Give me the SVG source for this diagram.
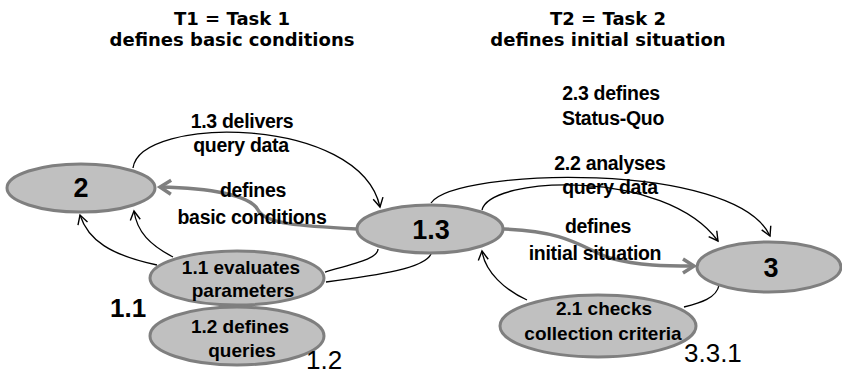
<svg xmlns="http://www.w3.org/2000/svg" width="842" height="376" viewBox="0 0 842 376">
  <style>
    .node { fill: #c0c0c0; stroke: #7f7f7f; stroke-width: 3; }
    .head { font-family: "DejaVu Sans", Verdana, sans-serif; font-weight: bold; font-size: 18px; fill: #000; text-anchor: middle; }
    .lbl { font-family: "Liberation Sans", Arial, sans-serif; font-weight: bold; font-size: 19.5px; letter-spacing: -0.3px; fill: #000; text-anchor: middle; }
    .ntxt { font-family: "Liberation Sans", Arial, sans-serif; font-weight: bold; font-size: 19px; fill: #000; text-anchor: middle; }
    .big { font-family: "Liberation Sans", Arial, sans-serif; font-weight: bold; font-size: 27px; fill: #000; text-anchor: middle; }
    .tag { font-family: "Liberation Sans", Arial, sans-serif; font-size: 26px; fill: #000; }
    .thin { fill: none; stroke: #000; stroke-width: 1.3; }
    .thick { fill: none; stroke: #7f7f7f; stroke-width: 3.5; }
  </style>
  <defs>
    <marker id="vBlack" markerUnits="userSpaceOnUse" markerWidth="24" markerHeight="24" viewBox="-12 -12 24 24" refX="0" refY="0" orient="auto">
      <path d="M-9,-5 L0,0 L-9,5" fill="none" stroke="#000" stroke-width="1.4"/>
    </marker>
    <marker id="vGray" markerUnits="userSpaceOnUse" markerWidth="30" markerHeight="30" viewBox="-15 -15 30 30" refX="0" refY="0" orient="auto">
      <path d="M-11,-7 L0,0 L-11,7" fill="none" stroke="#7f7f7f" stroke-width="3.5"/>
    </marker>
  </defs>

  <!-- headings -->
  <g id="headings">
    <text class="head" x="232" y="25">T1 = Task 1</text>
    <text class="head" x="232" y="46">defines basic conditions</text>
    <text class="head" x="608" y="25">T2 = Task 2</text>
    <text class="head" x="608" y="46">defines initial situation</text>
  </g>

  <!-- connectors -->
  <g id="connectors">
    <path class="thin" d="M133,168 C140,115 360,115 380,207" marker-end="url(#vBlack)"/>
    <path class="thick" d="M357,229 C300,226 265,224 258,210 C250,195 210,188 160,187" marker-end="url(#vGray)"/>
    <path class="thin" d="M157,265 C110,255 88,240 80,215" marker-end="url(#vBlack)"/>
    <path class="thin" d="M173,257 C150,245 137,232 134,211" marker-end="url(#vBlack)"/>
    <path class="thin" d="M325,272 C360,262 378,258 378,249"/>
    <path class="thin" d="M326,282 C380,275 425,268 431,254"/>
    <path class="thin" d="M431,203 C455,168 735,160 770,236" marker-end="url(#vBlack)"/>
    <path class="thin" d="M482,210 C490,176 665,168 718,241" marker-end="url(#vBlack)"/>
    <path class="thick" d="M504,229 C570,231 585,250 610,258 C640,266 665,266 694,266" marker-end="url(#vGray)"/>
    <path class="thin" d="M719,285 C717,298 700,303 684,307"/>
    <path class="thin" d="M527,300 C505,290 485,272 482,251" marker-end="url(#vBlack)"/>
  </g>

  <!-- connector labels -->
  <g id="labels">
    <text class="lbl" x="242" y="128">1.3 delivers</text>
    <text class="lbl" x="241" y="152">query data</text>
    <text class="lbl" x="253" y="197">defines</text>
    <text class="lbl" x="252" y="224">basic conditions</text>
    <text class="lbl" x="611" y="100">2.3 defines</text>
    <text class="lbl" x="613" y="125">Status-Quo</text>
    <text class="lbl" x="610" y="170">2.2 analyses</text>
    <text class="lbl" x="610" y="194">query data</text>
    <text class="lbl" x="598" y="233">defines</text>
    <text class="lbl" x="595" y="260">initial situation</text>
  </g>

  <g id="node-2">
    <ellipse class="node" cx="81" cy="188" rx="74" ry="24"/>
    <text class="big" x="81" y="197">2</text>
  </g>
  <g id="node-1-3">
    <ellipse class="node" cx="430" cy="229" rx="73" ry="24"/>
    <text class="big" x="431" y="239">1.3</text>
  </g>
  <g id="node-3">
    <ellipse class="node" cx="769" cy="267" rx="72" ry="25"/>
    <text class="big" x="771" y="277">3</text>
  </g>
  <g id="node-1-1">
    <ellipse class="node" cx="237" cy="278" rx="87" ry="27"/>
    <text class="ntxt" x="241" y="274">1.1 evaluates</text>
    <text class="ntxt" x="243" y="297">parameters</text>
  </g>
  <g id="node-1-2">
    <ellipse class="node" cx="237" cy="336" rx="87" ry="29"/>
    <text class="ntxt" x="240" y="333">1.2 defines</text>
    <text class="ntxt" x="242" y="357">queries</text>
  </g>
  <g id="node-2-1">
    <ellipse class="node" cx="598" cy="326" rx="98" ry="31"/>
    <text class="ntxt" x="604" y="315">2.1 checks</text>
    <text class="ntxt" x="603" y="340">collection criteria</text>
  </g>

  <!-- reference numbers -->
  <g id="tags">
    <text class="tag" x="110" y="317" font-weight="bold">1.1</text>
    <text class="tag" x="306" y="369">1.2</text>
    <text class="tag" x="684" y="362">3.3.1</text>
  </g>
</svg>
